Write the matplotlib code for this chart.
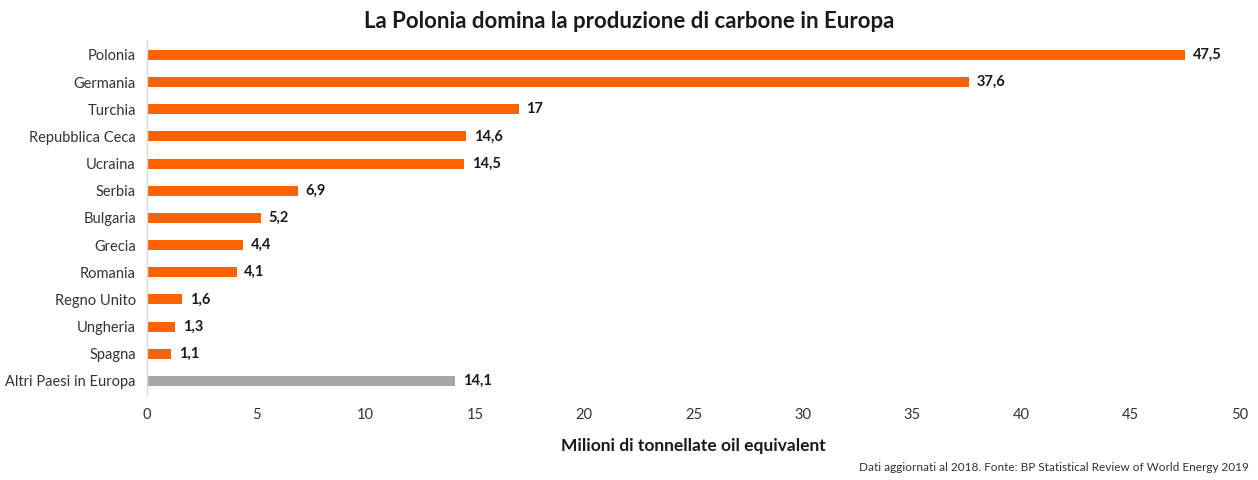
import matplotlib
matplotlib.use("Agg")
import matplotlib.pyplot as plt

countries = ["Polonia", "Germania", "Turchia", "Repubblica Ceca", "Ucraina", "Serbia",
             "Bulgaria", "Grecia", "Romania", "Regno Unito", "Ungheria", "Spagna",
             "Altri Paesi in Europa"]
values = [47.5, 37.6, 17, 14.6, 14.5, 6.9, 5.2, 4.4, 4.1, 1.6, 1.3, 1.1, 14.1]
labels = ["47,5", "37,6", "17", "14,6", "14,5", "6,9", "5,2", "4,4", "4,1", "1,6", "1,3", "1,1", "14,1"]
xticks = [0, 5, 10, 15, 20, 25, 30, 35, 40, 45, 50]

ORANGE = "#FF6200"
GREY = "#A6A6A6"

plt.rcParams["font.family"] = ["Lato", "DejaVu Sans"]

fig = plt.figure(figsize=(12.58, 4.8), dpi=100)
ax = fig.add_axes([0.1169, 0.178, 0.8688, 0.736])

colors = [ORANGE] * (len(values) - 1) + [GREY]
ypos = list(range(len(values)))
ax.barh(ypos, values, height=0.37, color=colors)
for y, v, lab in zip(ypos, values, labels):
    ax.text(v + 0.35, y, lab, va="center", ha="left", fontsize=10.5,
            fontweight="bold", color="#1a1a1a")

ax.set_ylim(len(values) - 0.5, -0.5)
ax.set_yticks(ypos)
ax.set_yticklabels(countries, fontsize=10.5, color="#333333")
ax.set_xlim(0, 50)
ax.set_xticks(xticks)
ax.set_xticklabels([str(t) for t in xticks], fontsize=10.5, color="#333333")
ax.tick_params(axis="both", length=0, pad=8)
ax.tick_params(axis="x", pad=10)

for s in ["top", "right", "bottom"]:
    ax.spines[s].set_visible(False)
ax.spines["left"].set_color("#D9D9D9")
ax.spines["left"].set_linewidth(1)

ax.set_xlabel("Milioni di tonnellate oil equivalent", fontsize=12.5, fontweight="bold",
              color="#1a1a1a", labelpad=11)
fig.text(0.5, 0.956, "La Polonia domina la produzione di carbone in Europa",
         ha="center", va="center", fontsize=16, fontweight="bold", color="#1a1a1a")
fig.text(0.993, 0.027, "Dati aggiornati al 2018. Fonte: BP Statistical Review of World Energy 2019",
         ha="right", va="center", fontsize=8.5, color="#333333")

fig.savefig("out.png", dpi=100)
